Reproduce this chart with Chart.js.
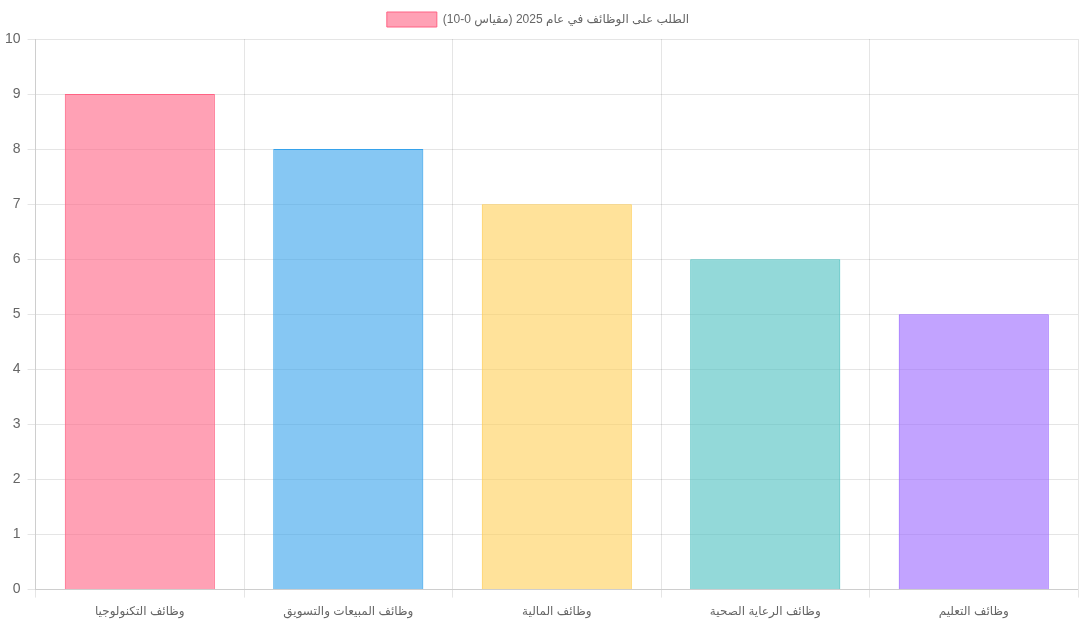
<!DOCTYPE html>
<html lang="ar">
<head>
<meta charset="utf-8">
<script src="https://cdn.jsdelivr.net/npm/chart.js@4"></script>
<style>
    html, body { margin: 0; padding: 0; background: #fff; }
    #wrap { width: 1080px; height: 625px; }
</style>
</head>
<body>
<div id="wrap"><canvas id="demandChart"></canvas></div>
<script>
const jobLabels = ['وظائف التكنولوجيا', 'وظائف المبيعات والتسويق', 'وظائف المالية', 'وظائف الرعاية الصحية', 'وظائف التعليم'];
const demandValues = [9, 8, 7, 6, 5];
const seriesLabel = 'الطلب على الوظائف في عام 2025 (مقياس 0-10)';
const fillColors = ['rgba(255,99,132,0.6)', 'rgba(54,162,235,0.6)', 'rgba(255,206,86,0.6)', 'rgba(75,192,192,0.6)', 'rgba(153,102,255,0.6)'];
const lineColors = ['rgba(255,99,132,1)', 'rgba(54,162,235,1)', 'rgba(255,206,86,1)', 'rgba(75,192,192,1)', 'rgba(153,102,255,1)'];

Chart.defaults.font.family = 'Arial, "Liberation Sans", "DejaVu Sans", sans-serif';

// a little extra room under the legend
const legendGap = {
    id: 'legendGap',
    beforeInit(chart) {
        const origFit = chart.legend.fit;
        chart.legend.fit = function () {
            origFit.bind(chart.legend)();
            this.height += 2;
        };
    }
};

const ctx = document.getElementById('demandChart').getContext('2d');
new Chart(ctx, {
    type: 'bar',
    data: {
        labels: jobLabels,
        datasets: [{
            label: seriesLabel,
            data: demandValues,
            backgroundColor: fillColors,
            borderColor: lineColors,
            borderWidth: 1
        }]
    },
    options: {
        responsive: true,
        maintainAspectRatio: false,
        animation: false,
        layout: {padding: {left: -2, top: 0, bottom: -1, right: 2}},
        plugins: {
            legend: {
                labels: {boxWidth: 50, boxHeight: 15, padding: 12}
            }
        },
        scales: {
            y: {
                beginAtZero: true,
                max: 10,
                ticks: {stepSize: 1, padding: 7, font: {size: 14}}
            },
            x: {
                ticks: {padding: 7, font: {size: 12}}
            }
        }
    },
    plugins: [legendGap]
});
</script>
</body>
</html>
